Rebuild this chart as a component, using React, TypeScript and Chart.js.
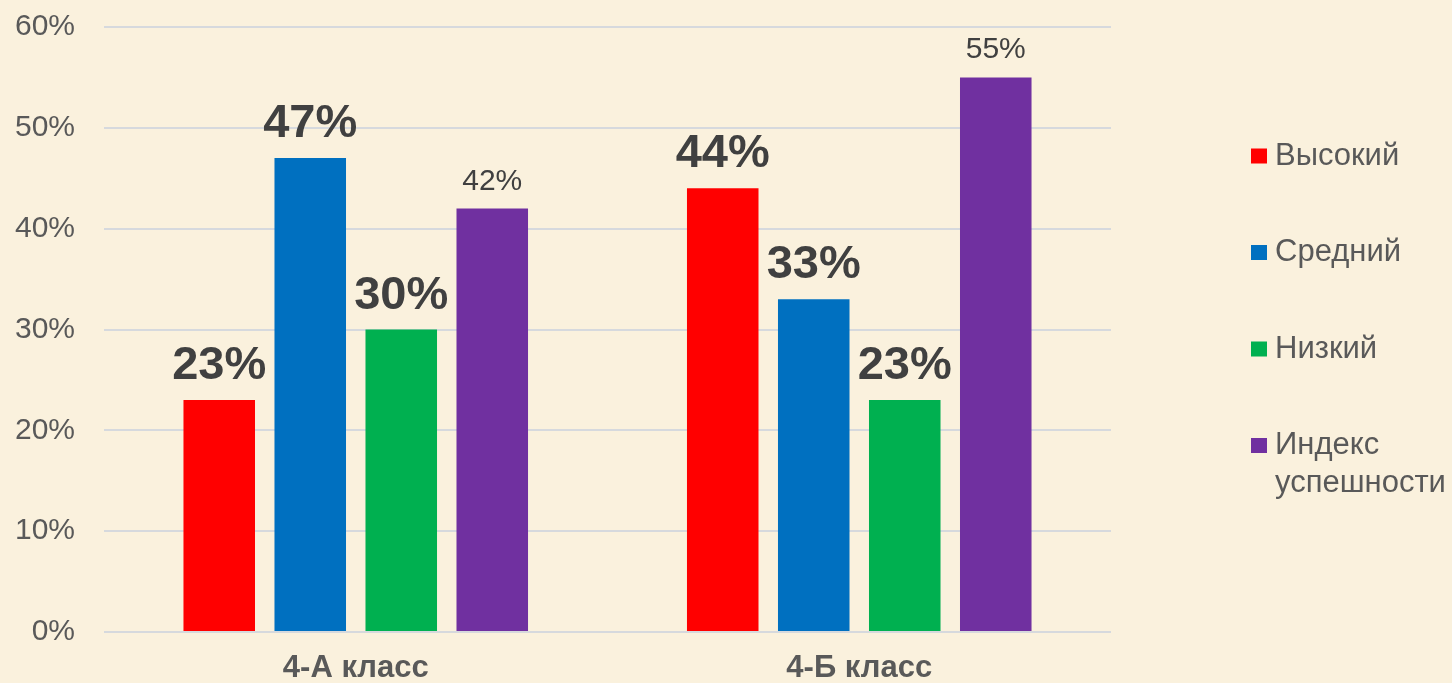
import React, { useEffect, useRef } from "react";
import { Chart, registerables } from "chart.js";

Chart.register(...registerables);

const categories = ["4-А класс", "4-Б класс"];
const seriesNames = ["Высокий", "Средний", "Низкий", "Индекс успешности"];
const highValues = [23, 44];
const midValues = [47, 33];
const lowValues = [30, 23];
const indexValues = [42, 55];
const seriesColors = ["#FF0000", "#0070C0", "#00B050", "#7030A0"];
const boldLabelSeries = [true, true, true, false];
const yTicks = [0, 10, 20, 30, 40, 50, 60];

const BG = "#FAF1DD";
const TEXT = "#595959";
const LABEL = "#404040";
const FONT = "'Liberation Sans', Arial, sans-serif";

const bgPlugin = {
  id: "bgFill",
  beforeDraw(chart: any) {
    const ctx = chart.ctx;
    ctx.save();
    ctx.fillStyle = BG;
    ctx.fillRect(0, 0, chart.width, chart.height);
    ctx.restore();
  },
};

const barLabelPlugin = {
  id: "barLabels",
  afterDatasetsDraw(chart: any) {
    const ctx = chart.ctx;
    ctx.save();
    ctx.textAlign = "center";
    ctx.textBaseline = "alphabetic";
    ctx.fillStyle = LABEL;
    chart.data.datasets.forEach((ds: any, di: number) => {
      const meta = chart.getDatasetMeta(di);
      const bold = boldLabelSeries[di];
      ctx.font = bold ? `bold 47px ${FONT}` : `30px ${FONT}`;
      meta.data.forEach((el: any, i: number) => {
        const v = ds.data[i];
        ctx.fillText(`${v}%`, el.x, el.y - (bold ? 21 : 19));
      });
    });
    ctx.restore();
  },
};

function wrapText(ctx: CanvasRenderingContext2D, text: string, maxW: number): string[] {
  const words = text.split(" ");
  const lines: string[] = [];
  let cur = "";
  for (const w of words) {
    const t = cur ? cur + " " + w : w;
    if (ctx.measureText(t).width > maxW && cur) {
      lines.push(cur);
      cur = w;
    } else cur = t;
  }
  if (cur) lines.push(cur);
  return lines;
}

const legendPlugin = {
  id: "sideLegend",
  afterDraw(chart: any) {
    const ctx = chart.ctx;
    ctx.save();
    ctx.font = `31px ${FONT}`;
    ctx.textBaseline = "middle";
    ctx.textAlign = "left";
    const boxX = 1251;
    const textX = 1275;
    const startY = 156;
    const step = 96.5;
    const lineH = 38;
    chart.data.datasets.forEach((ds: any, i: number) => {
      const cy = startY + i * step;
      ctx.fillStyle = ds.backgroundColor;
      ctx.fillRect(boxX, cy - 7.5, 16, 15);
      ctx.fillStyle = TEXT;
      const lines = wrapText(ctx, ds.label, chart.width - textX);
      lines.forEach((ln, k) => ctx.fillText(ln, textX, cy + k * lineH));
    });
    ctx.restore();
  },
};

export default function App() {
  const ref = useRef<HTMLCanvasElement | null>(null);
  useEffect(() => {
    if (!ref.current) return;
    const seriesData = [highValues, midValues, lowValues, indexValues];
    const chart = new Chart(ref.current, {
      type: "bar",
      data: {
        labels: categories,
        datasets: seriesNames.map((name, i) => ({
          label: name,
          data: seriesData[i],
          backgroundColor: seriesColors[i],
          borderWidth: 0,
          categoryPercentage: 0.723,
          barPercentage: 0.786,
        })),
      },
      options: {
        responsive: false,
        animation: false,
        layout: { padding: { left: 0, right: 341, top: 27, bottom: 0 } },
        plugins: {
          legend: { display: false },
          tooltip: { enabled: false },
          title: { display: false },
        },
        scales: {
          x: {
            grid: { display: false, drawTicks: false },
            border: { display: false },
            ticks: {
              color: TEXT,
              font: { family: FONT, size: 31, weight: "bold" },
              padding: 18,
            },
            afterFit(s: any) {
              s.height = 51;
              s.paddingLeft = 0;
              s.paddingRight = 0;
              s.paddingTop = 0;
              s.paddingBottom = 0;
            },
          },
          y: {
            min: 0,
            max: 60,
            afterBuildTicks(s: any) {
              s.ticks = yTicks.map((v) => ({ value: v }));
            },
            grid: { color: "#D6D9DD", lineWidth: 2, drawTicks: false },
            border: { display: false },
            ticks: {
              color: TEXT,
              font: { family: FONT, size: 30 },
              padding: 29,
              callback: (v: any) => `${v}%`,
            },
            afterFit(s: any) {
              s.width = 104;
              s.paddingLeft = 0;
              s.paddingRight = 0;
              s.paddingTop = 0;
              s.paddingBottom = 0;
            },
          },
        },
      },
      plugins: [bgPlugin, barLabelPlugin, legendPlugin],
    });
    return () => chart.destroy();
  }, []);
  return (
    <div style={{ position: "fixed", left: 0, top: 0, width: 1452, height: 683, background: BG }}>
      <canvas ref={ref} width={1452} height={683} style={{ display: "block" }} />
    </div>
  );
}
